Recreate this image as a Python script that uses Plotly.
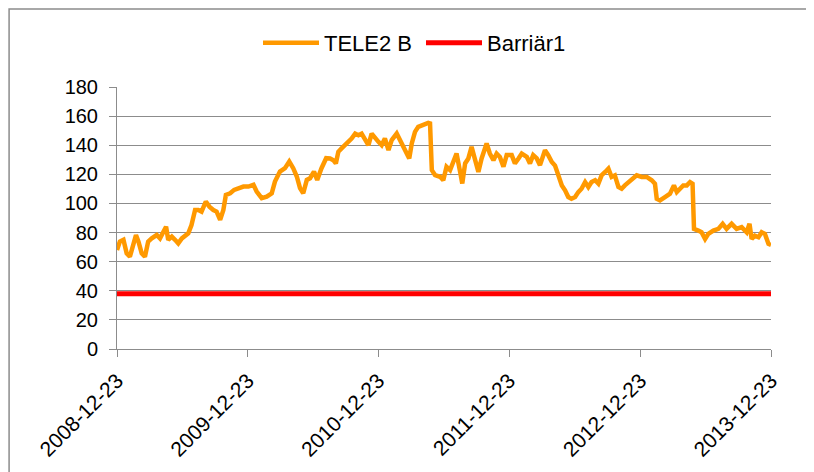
import plotly.graph_objects as go

# TELE2 B kurs
dates = [
    "2008-12-23", "2008-12-31", "2009-01-10", "2009-01-19", "2009-01-28", "2009-02-07",
    "2009-02-14", "2009-02-21", "2009-03-02", "2009-03-11", "2009-03-20", "2009-03-30",
    "2009-04-13", "2009-04-22", "2009-05-01", "2009-05-09", "2009-05-15", "2009-05-25",
    "2009-06-03", "2009-06-12", "2009-06-22", "2009-07-01", "2009-07-10", "2009-07-19",
    "2009-07-29", "2009-08-07", "2009-08-16", "2009-08-28", "2009-09-07", "2009-09-18",
    "2009-09-27", "2009-10-07", "2009-10-16", "2009-10-23", "2009-11-04", "2009-11-15",
    "2009-11-27", "2009-12-11", "2009-12-25", "2010-01-08", "2010-01-17", "2010-01-31",
    "2010-02-14", "2010-02-28", "2010-03-09", "2010-03-23", "2010-04-06", "2010-04-18",
    "2010-04-29", "2010-05-09", "2010-05-18", "2010-05-27", "2010-06-06", "2010-06-15",
    "2010-06-26", "2010-07-05", "2010-07-17", "2010-07-30",
    "2010-08-10", "2010-08-19", "2010-08-26", "2010-09-02", "2010-09-11", "2010-09-21",
    "2010-09-30", "2010-10-09", "2010-10-19", "2010-10-28", "2010-11-06", "2010-11-15",
    "2010-11-25", "2010-12-04", "2010-12-13", "2010-12-23", "2011-01-01", "2011-01-10",
    "2011-01-20", "2011-01-29", "2011-02-12", "2011-02-21", "2011-03-02", "2011-03-12",
    "2011-03-19", "2011-03-26", "2011-04-04", "2011-04-13", "2011-04-27", "2011-05-11",
    "2011-05-16", "2011-05-21", "2011-05-30", "2011-06-13", "2011-06-22", "2011-07-01",
    "2011-07-11", "2011-07-20", "2011-07-29", "2011-08-08", "2011-08-14", "2011-08-22",
    "2011-08-31", "2011-09-09", "2011-09-19", "2011-09-28", "2011-10-07", "2011-10-21",
    "2011-10-30", "2011-11-09", "2011-11-18", "2011-11-27", "2011-12-07", "2011-12-16",
    "2011-12-30", "2012-01-08", "2012-01-18", "2012-01-27", "2012-02-10", "2012-02-19",
    "2012-02-28", "2012-03-09", "2012-03-18", "2012-04-01", "2012-04-10", "2012-04-20",
    "2012-04-29", "2012-05-08", "2012-05-18", "2012-05-27", "2012-06-05", "2012-06-14",
    "2012-06-24", "2012-07-03", "2012-07-12", "2012-07-22", "2012-07-31", "2012-08-09",
    "2012-08-19", "2012-08-28", "2012-09-06", "2012-09-16", "2012-09-25", "2012-10-04",
    "2012-10-13", "2012-10-23", "2012-11-01", "2012-11-10", "2012-11-20", "2012-11-29",
    "2012-12-13", "2012-12-27", "2013-01-10", "2013-01-24", "2013-02-02", "2013-02-07",
    "2013-02-16", "2013-03-02", "2013-03-16", "2013-03-27", "2013-04-04", "2013-04-13",
    "2013-04-22", "2013-05-02", "2013-05-11", "2013-05-18", "2013-05-22", "2013-06-03",
    "2013-06-12", "2013-06-22", "2013-07-01", "2013-07-15", "2013-07-29", "2013-08-10",
    "2013-08-21", "2013-09-04", "2013-09-18", "2013-10-02", "2013-10-16", "2013-10-24",
    "2013-10-30", "2013-11-08", "2013-11-18", "2013-11-27", "2013-12-06", "2013-12-16",
    "2013-12-23",
]
tele2_b = [
    68, 73.8, 75, 65.7, 63.4, 73.8,
    78.3, 73.8, 65.7, 63.4, 73.8, 76,
    78.3, 76, 79.5, 84, 75, 77.2,
    75, 72.6, 76, 78.3, 79.5, 85.2,
    95.5, 95.5, 94.4, 101.3, 97.8, 95.5,
    94.4, 88.7, 95.5, 105.9, 107, 109.3,
    110.5, 111.6, 111.6, 112.8, 108.2, 103.6,
    104.7, 107, 115, 121.9, 124.2, 128.8,
    124.2, 118.5, 110.5, 107, 116.2, 117.3,
    121.9, 116.2, 124.2, 131.1,
    130.9, 129.7, 127.5, 135.5, 137.8, 140,
    142.3, 144.6, 148, 146.9, 148, 143.5,
    140, 148, 145.8, 142.3, 140, 144.6,
    136.6, 143.5, 148, 143.5, 138.9, 134.3,
    130.9, 141.2, 149.2, 152.6, 153.8, 155.4,
    155, 122.9, 119.5, 118.3, 116, 125.2,
    122.9, 128.6, 134.3, 121.7, 113.7, 127.5,
    130.9, 138.9, 130.9, 121.7, 130.9, 141.2,
    134.3, 129.7, 134.3, 132, 125.2, 133.2,
    133.2, 127.5, 130.9, 134.3, 132, 127.5,
    133.2, 130.9, 126.3, 136.6, 133.2, 128.5,
    126, 119.3, 112.4, 109, 104.4, 103.2,
    104.4, 107.8, 110.1, 114.7, 111.3, 114.7,
    115.9, 113.6, 119.3, 121.6, 123.9, 118.2,
    119.3, 111.3, 110.1, 112.4, 114.7, 117,
    119.3, 118.2, 118.2, 115.9, 113.6, 103.2,
    102.1, 104.4, 106.7, 112.4, 107.8, 110.1,
    112.4, 112.4, 114.7, 113.6, 82.5, 81.4,
    80.2, 75.6, 79.1, 81.4, 82.5, 86,
    82.5, 86, 82.5, 83.7, 80.2, 86,
    75.6, 77.9, 76.8, 80.2, 79.1, 72.2,
    71.5,
]
barrier_level = 38

x_ticks = ["2008-12-23", "2009-12-23", "2010-12-23", "2011-12-23", "2012-12-23", "2013-12-23"]

colors = {
    'tele2': '#FF9900',
    'barrier': '#FF0000',
    'grid': '#8C8C8C',
}

fig = go.Figure()

fig.add_trace(go.Scatter(
    x=dates,
    y=tele2_b,
    mode='lines',
    name='TELE2 B',
    line=dict(color=colors['tele2'], width=4.5),
))

fig.add_trace(go.Scatter(
    x=dates,
    y=[barrier_level] * len(dates),
    mode='lines',
    name='Barriär1',
    line=dict(color=colors['barrier'], width=5),
))

fig.update_layout(
    width=814,
    height=472,
    margin=dict(l=109, r=51, t=79, b=131),
    paper_bgcolor='white',
    plot_bgcolor='white',
    font=dict(family='Liberation Sans, Arial, sans-serif', size=20, color='#000000'),
    showlegend=True,
    legend=dict(
        orientation='h',
        x=0.2156,
        y=1.168,
        xanchor='left',
        yanchor='middle',
        font=dict(size=22),
        itemwidth=56,
        entrywidth=92,
        bgcolor='rgba(0,0,0,0)',
    ),
    xaxis=dict(
        type='date',
        range=[x_ticks[0], x_ticks[-1]],
        tickvals=x_ticks,
        tickformat='%Y-%m-%d',
        tickangle=-45,
        tickfont=dict(size=21),
        ticklabelstandoff=3,
        showgrid=False,
        showline=True,
        linecolor=colors['grid'],
        linewidth=1,
        ticks='outside',
        ticklen=7,
        tickcolor=colors['grid'],
        zeroline=False,
    ),
    yaxis=dict(
        range=[0, 180],
        dtick=20,
        showgrid=True,
        gridcolor=colors['grid'],
        gridwidth=1,
        showline=True,
        linecolor=colors['grid'],
        linewidth=1,
        ticks='outside',
        ticklen=7,
        tickcolor=colors['grid'],
        ticklabelstandoff=7,
        zeroline=False,
    ),
    shapes=[dict(
        type='rect',
        xref='paper', yref='paper',
        x0=-0.165, x1=1.2, y0=-0.8, y1=1.2977,
        line=dict(color=colors['grid'], width=1.5),
        fillcolor='rgba(0,0,0,0)',
        layer='below',
    )],
)

fig.write_html("out.html")
